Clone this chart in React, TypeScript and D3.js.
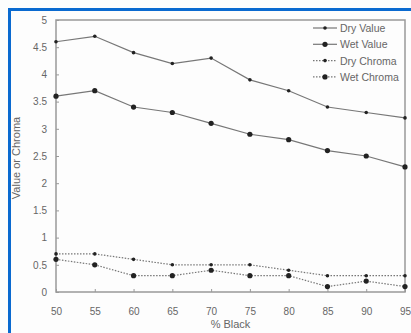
import React, { useRef, useEffect } from "react";
import * as d3 from "d3";

const blackPct = [50, 55, 60, 65, 70, 75, 80, 85, 90, 95];
const dryValue = [4.6, 4.7, 4.4, 4.2, 4.3, 3.9, 3.7, 3.4, 3.3, 3.2];
const wetValue = [3.6, 3.7, 3.4, 3.3, 3.1, 2.9, 2.8, 2.6, 2.5, 2.3];
const dryChroma = [0.7, 0.7, 0.6, 0.5, 0.5, 0.5, 0.4, 0.3, 0.3, 0.3];
const wetChroma = [0.6, 0.5, 0.3, 0.3, 0.4, 0.3, 0.3, 0.1, 0.2, 0.1];
const yTicks = [0, 0.5, 1, 1.5, 2, 2.5, 3, 3.5, 4, 4.5, 5];

const series = [
  { name: "Dry Value", values: dryValue, dash: null, r: 1.8 },
  { name: "Wet Value", values: wetValue, dash: null, r: 2.6 },
  { name: "Dry Chroma", values: dryChroma, dash: "1.5,1.5", r: 1.8 },
  { name: "Wet Chroma", values: wetChroma, dash: "1.5,1.5", r: 2.6 },
];

const App = () => {
  const ref = useRef<SVGSVGElement>(null);

  useEffect(() => {
    const width = 411;
    const height = 333;
    const margin = { top: 20, right: 6, bottom: 41, left: 56 };
    const textColor = "#666";
    const lineColor = "#777";
    const font = "Arial, Liberation Sans, sans-serif";

    const svg = d3.select(ref.current).attr("width", width).attr("height", height);
    svg.selectAll("*").remove();

    // background and blue border on top/left
    svg.append("rect").attr("width", width).attr("height", height).attr("fill", "#fdfdfd");
    svg.append("rect").attr("x", 8).attr("y", 8).attr("width", width - 8).attr("height", 3).attr("fill", "#0a6ad0");
    svg.append("rect").attr("x", 8).attr("y", 8).attr("width", 3).attr("height", height - 8).attr("fill", "#0a6ad0");

    const x = d3.scaleLinear().domain([50, 95]).range([margin.left, width - margin.right]);
    const y = d3.scaleLinear().domain([0, 5]).range([height - margin.bottom, margin.top]);

    // frame
    svg.append("rect")
      .attr("x", margin.left)
      .attr("y", margin.top)
      .attr("width", width - margin.left - margin.right)
      .attr("height", height - margin.top - margin.bottom)
      .attr("fill", "none")
      .attr("stroke", "#999")
      .attr("stroke-width", 1.5);

    // x axis ticks and labels
    const xAxis = svg.append("g")
      .attr("transform", `translate(0, ${height - margin.bottom})`)
      .call(d3.axisBottom(x).tickValues(blackPct).tickSizeInner(-3).tickSizeOuter(0).tickPadding(16));
    xAxis.select(".domain").remove();
    xAxis.selectAll("line").attr("stroke", "#999");
    xAxis.selectAll("text").attr("fill", textColor).style("font-family", font).style("font-size", "10px");

    const yAxis = svg.append("g")
      .attr("transform", `translate(${margin.left}, 0)`)
      .call(d3.axisLeft(y).tickValues(yTicks).tickFormat(d3.format("~g")).tickSizeInner(-3).tickSizeOuter(0).tickPadding(9));
    yAxis.select(".domain").remove();
    yAxis.selectAll("line").attr("stroke", "#999");
    yAxis.selectAll("text").attr("fill", textColor).style("font-family", font).style("font-size", "10px");

    // axis titles
    svg.append("text")
      .attr("x", (margin.left + width - margin.right) / 2)
      .attr("y", 328)
      .attr("text-anchor", "middle")
      .attr("fill", textColor)
      .style("font-family", font)
      .style("font-size", "11px")
      .text("% Black");

    svg.append("text")
      .attr("transform", `translate(20, ${(margin.top + height - margin.bottom) / 2 + 2}) rotate(-90)`)
      .attr("text-anchor", "middle")
      .attr("fill", textColor)
      .style("font-family", font)
      .style("font-size", "11px")
      .text("Value or Chroma");

    const line = d3.line<number>().x((d, i) => x(blackPct[i])).y(d => y(d));

    series.forEach(s => {
      svg.append("path")
        .attr("d", line(s.values))
        .attr("fill", "none")
        .attr("stroke", lineColor)
        .attr("stroke-width", 1.2)
        .attr("stroke-dasharray", s.dash);
      svg.selectAll(null)
        .data(s.values)
        .enter()
        .append("circle")
        .attr("cx", (d, i) => x(blackPct[i]))
        .attr("cy", d => y(d))
        .attr("r", s.r)
        .attr("fill", "#222");
    });

    // legend
    const legend = svg.append("g").attr("transform", "translate(313, 28)");
    series.forEach((s, i) => {
      const g = legend.append("g").attr("transform", `translate(0, ${i * 16.3})`);
      g.append("line")
        .attr("x1", 0).attr("x2", 24).attr("y1", 0).attr("y2", 0)
        .attr("stroke", lineColor)
        .attr("stroke-width", 1.2)
        .attr("stroke-dasharray", s.dash);
      g.append("circle").attr("cx", 12).attr("cy", 0).attr("r", s.r).attr("fill", "#222");
      g.append("text")
        .attr("x", 27)
        .attr("y", 4)
        .attr("fill", textColor)
        .style("font-family", font)
        .style("font-size", "10.5px")
        .text(s.name);
    });
  }, []);

  return <svg ref={ref} style={{ position: "absolute", left: 0, top: 0 }}></svg>;
};

export default App;
